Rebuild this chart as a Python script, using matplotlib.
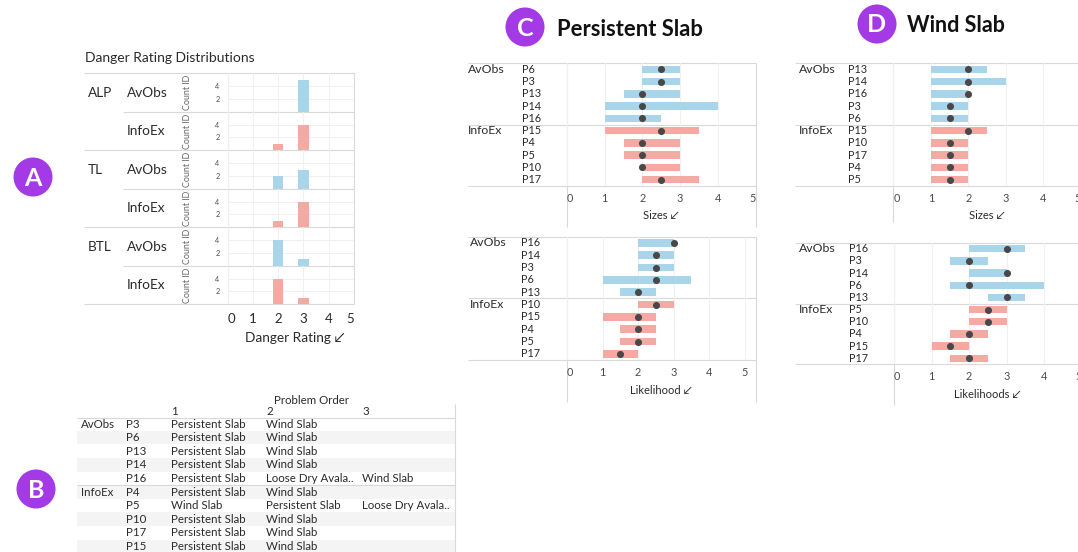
import matplotlib
matplotlib.use("Agg")
import matplotlib.pyplot as plt
from matplotlib.patches import Circle, Rectangle

plt.rcParams['font.family'] = ['Lato', 'DejaVu Sans']

# ---------------- data ----------------
# A: danger rating distributions (counts of ratings 2 and 3 per zone)
zones = ['ALP', 'TL', 'BTL']
sources = ['AvObs', 'InfoEx']
rating_ticks = [0, 1, 2, 3, 4, 5]
bar_ratings = [2, 3]
avobs_rating2 = [0, 2, 4]
avobs_rating3 = [5, 3, 1]
infoex_rating2 = [1, 1, 4]
infoex_rating3 = [4, 4, 1]

# B: problem order table
table_ids = ['P3', 'P6', 'P13', 'P14', 'P16', 'P4', 'P5', 'P10', 'P17', 'P15']
order_1 = ['Persistent Slab', 'Persistent Slab', 'Persistent Slab', 'Persistent Slab',
           'Persistent Slab', 'Persistent Slab', 'Wind Slab', 'Persistent Slab',
           'Persistent Slab', 'Persistent Slab']
order_2 = ['Wind Slab', 'Wind Slab', 'Wind Slab', 'Wind Slab', 'Loose Dry Avala..',
           'Wind Slab', 'Persistent Slab', 'Wind Slab', 'Wind Slab', 'Wind Slab']
order_3 = ['', '', '', '', 'Wind Slab', '', 'Loose Dry Avala..', '', '', '']
order_headers = ['1', '2', '3']

# C: persistent slab
ps_size_ids = ['P6', 'P3', 'P13', 'P14', 'P16', 'P15', 'P4', 'P5', 'P10', 'P17']
ps_size_lo = [2, 2, 1.5, 1, 1, 1, 1.5, 1.5, 2, 2]
ps_size_hi = [3, 3, 3, 4, 2.5, 3.5, 3, 3, 3, 3.5]
ps_size_mid = [2.5, 2.5, 2, 2, 2, 2.5, 2, 2, 2, 2.5]

ps_like_ids = ['P16', 'P14', 'P3', 'P6', 'P13', 'P10', 'P15', 'P4', 'P5', 'P17']
ps_like_lo = [2, 2, 2, 1, 1.5, 2, 1, 1.5, 1.5, 1]
ps_like_hi = [3, 3, 3, 3.5, 2.5, 3, 2.5, 2.5, 2.5, 2]
ps_like_mid = [3, 2.5, 2.5, 2.5, 2, 2.5, 2, 2, 2, 1.5]

# D: wind slab
ws_size_ids = ['P13', 'P14', 'P16', 'P3', 'P6', 'P15', 'P10', 'P17', 'P4', 'P5']
ws_size_lo = [1, 1, 1, 1, 1, 1, 1, 1, 1, 1]
ws_size_hi = [2.5, 3, 2, 2, 2, 2.5, 2, 2, 2, 2]
ws_size_mid = [2, 2, 2, 1.5, 1.5, 2, 1.5, 1.5, 1.5, 1.5]

ws_like_ids = ['P16', 'P3', 'P14', 'P6', 'P13', 'P5', 'P10', 'P4', 'P15', 'P17']
ws_like_lo = [2, 1.5, 2, 1.5, 2.5, 2, 2, 1.5, 1, 1.5]
ws_like_hi = [3.5, 2.5, 3, 4, 3.5, 3, 3, 2.5, 2, 2.5]
ws_like_mid = [3, 2, 3, 2, 3, 2.5, 2.5, 2, 1.5, 2]

group_sizes = [5, 5]

# ---------------- styling ----------------
BLUE = '#a9d5ea'
PINK = '#f4a9a3'
DOT = '#484848'
PURPLE = '#a43ae6'
LINE = '#d9d9d9'
GRID = '#f0f0f0'
TXT = '#2a2a2a'
TICK = '#4a4a4a'
PIN = '\u2199'

W, H = 1078, 552
fig = plt.figure(figsize=(W / 100, H / 100), dpi=100)

ov = fig.add_axes([0, 0, 1, 1])
ov.set_xlim(0, W)
ov.set_ylim(H, 0)
ov.axis('off')


def px_axes(left, top, right, bottom):
    ax = fig.add_axes([left / W, 1 - bottom / H, (right - left) / W, (bottom - top) / H])
    ax.set_facecolor('none')
    for s in ax.spines.values():
        s.set_visible(False)
    return ax


def hline(y, x0, x1, color=LINE, lw=0.8):
    ov.plot([x0, x1], [y, y], color=color, lw=lw, solid_capstyle='butt')


def vline(x, y0, y1, color=LINE, lw=0.8):
    ov.plot([x, x], [y0, y1], color=color, lw=lw, solid_capstyle='butt')


def badge(x, y, letter):
    ov.add_patch(Circle((x, y), 19.5, color=PURPLE, lw=0))
    ov.text(x, y + 1, letter, color='white', fontsize=18, fontweight='bold',
            ha='center', va='center')


# ---------------- A ----------------
badge(33, 177, 'A')
ov.text(85, 58, 'Danger Rating Distributions', fontsize=10, color=TXT, va='center')

a_left, a_right, a_top, a_row = 227.7, 354, 73.3, 38.5
row = 0
for zi, zone in enumerate(zones):
    for si, src in enumerate(sources):
        top = a_top + row * a_row
        ax = px_axes(a_left, top, a_right, top + a_row)
        if src == 'AvObs':
            vals = [avobs_rating2[zi], avobs_rating3[zi]]
            col = BLUE
        else:
            vals = [infoex_rating2[zi], infoex_rating3[zi]]
            col = PINK
        ax.bar(bar_ratings, vals, width=0.4, color=col, zorder=2)
        ax.set_xlim(0, 5)
        ax.set_ylim(0, 6)
        ax.set_xticks(rating_ticks)
        ax.set_yticks([2, 4])
        ax.set_yticklabels(['2', '4'], fontsize=5.2, color=TICK)
        ax.grid(True, color=GRID, lw=0.7, zorder=0)
        ax.tick_params(length=0, axis='y', pad=6)
        if row == 5:
            labs = ax.set_xticklabels([str(t) for t in rating_ticks], fontsize=9.5, color=TXT)
            labs[0].set_ha('left')
            labs[-1].set_ha('right')
            ax.tick_params(axis='x', length=0, pad=6)
            ax.annotate('Danger Rating ' + PIN, xy=(0.53, 0), xycoords='axes fraction',
                        xytext=(0, -34), textcoords='offset pixels', ha='center',
                        va='center', fontsize=9.8, color=TXT)
        else:
            ax.tick_params(axis='x', length=0, labelbottom=False)
        cy = top + a_row / 2
        ov.text(187, cy, 'Count ID', rotation=90, fontsize=6.4, color='#666666',
                ha='center', va='center')
        if si == 0:
            ov.text(88, cy, zone, fontsize=9.8, color=TXT, va='center')
            hline(top, 84, a_right)
        else:
            hline(top, 123, a_right)
        ov.text(127, cy, src, fontsize=9.8, color=TXT, va='center')
        row += 1
hline(a_top + 6 * a_row, 84, a_right)
vline(a_left, a_top, a_top + 6 * a_row)
vline(a_right, a_top, a_top + 6 * a_row)

# ---------------- B ----------------
badge(36, 489, 'B')
t_left, t_right = 77, 455
row_y0, row_step = 424, 13.6
for i in range(len(table_ids)):
    if i % 2 == 1:
        ov.add_patch(Rectangle((t_left, row_y0 + i * row_step - row_step / 2),
                               t_right - t_left, row_step, color='#f4f4f4', lw=0))
ov.text(311, 400.5, 'Problem Order', fontsize=8.3, color=TXT, ha='center', va='center')
for x, h in zip([171, 266, 362], order_headers):
    ov.text(x, 411.5, h, fontsize=8.3, color=TXT, va='center')
hline(417.5, t_left, t_right)
vline(t_right, 404, 552)
pos = 0
for src, n in zip(sources, group_sizes):
    ov.text(81, row_y0 + pos * row_step, src, fontsize=8.3, color=TXT, va='center')
    if pos > 0:
        hline(row_y0 + pos * row_step - row_step / 2, t_left, t_right)
    pos += n
for i, pid in enumerate(table_ids):
    y = row_y0 + i * row_step
    ov.text(126, y, pid, fontsize=8.3, color=TXT, va='center')
    ov.text(171, y, order_1[i], fontsize=8.3, color=TXT, va='center')
    ov.text(266, y, order_2[i], fontsize=8.3, color=TXT, va='center')
    ov.text(362, y, order_3[i], fontsize=8.3, color=TXT, va='center')


# ---------------- C / D ----------------
def range_chart(left, top, right, bottom, xmax, ids, lo, hi, mid, xlabel,
                src_x, id_x, line_x0, line_x1, vbottom):
    ax = px_axes(left, top, right, bottom)
    n = len(ids)
    ypos = list(range(n))
    colors = [BLUE] * group_sizes[0] + [PINK] * group_sizes[1]
    widths = [h - l for l, h in zip(lo, hi)]
    ax.barh(ypos, widths, left=lo, height=0.6, color=colors, zorder=2)
    ax.scatter(mid, ypos, s=26, color=DOT, zorder=3, lw=0)
    ax.set_xlim(0, xmax)
    ax.set_ylim(n - 0.5, -0.5)
    ax.set_yticks([])
    ax.set_xticks(rating_ticks)
    ax.grid(True, axis='x', color=GRID, lw=0.8, zorder=0)
    labs = ax.set_xticklabels([str(t) for t in rating_ticks], fontsize=7.8, color=TICK)
    labs[0].set_ha('left')
    if xmax <= 5:
        labs[-1].set_ha('right')
    ax.tick_params(axis='x', length=0, pad=5)
    ax.annotate(xlabel + ' ' + PIN, xy=(0.5, 0), xycoords='axes fraction',
                xytext=(0, -30), textcoords='offset pixels', ha='center',
                va='center', fontsize=8, color=TXT)
    trans = ax.get_yaxis_transform()
    fx = lambda px: (px - left) / (right - left)
    for i, pid in enumerate(ids):
        ax.text(fx(id_x), i, pid, transform=trans, fontsize=7.8, color=TXT,
                ha='left', va='center', clip_on=False)
    k = 0
    for src, g in zip(sources, group_sizes):
        ax.text(fx(src_x), k, src, transform=trans, fontsize=8.8, color=TXT,
                ha='left', va='center', clip_on=False)
        k += g
    sep = top + (bottom - top) * group_sizes[0] / n
    for y in (top, sep, bottom):
        hline(y, line_x0, line_x1)
    vline(left, top, vbottom)
    vline(right, top, vbottom)
    return ax


badge(525, 27, 'C')
ov.text(557, 29, 'Persistent Slab', fontsize=15.8, fontweight='bold', color='#111111',
        va='center')
range_chart(567, 63.3, 755.5, 185.7, 5, ps_size_ids, ps_size_lo, ps_size_hi,
            ps_size_mid, 'Sizes', 468, 522, 468, 755.5, 227)
range_chart(567, 236.7, 755.5, 360, 5.3, ps_like_ids, ps_like_lo, ps_like_hi,
            ps_like_mid, 'Likelihood', 470, 521, 468, 755.5, 402)

badge(877, 24, 'D')
ov.text(907, 25, 'Wind Slab', fontsize=15.5, fontweight='bold', color='#111111',
        va='center')
range_chart(893.3, 63.3, 1080.8, 185.7, 5, ws_size_ids, ws_size_lo, ws_size_hi,
            ws_size_mid, 'Sizes', 799, 848, 795, 1078, 222)
range_chart(894, 242.7, 1081.5, 364.3, 5, ws_like_ids, ws_like_lo, ws_like_hi,
            ws_like_mid, 'Likelihoods', 799, 849, 795, 1078, 405)

fig.savefig('out.png', dpi=100, facecolor='white')
